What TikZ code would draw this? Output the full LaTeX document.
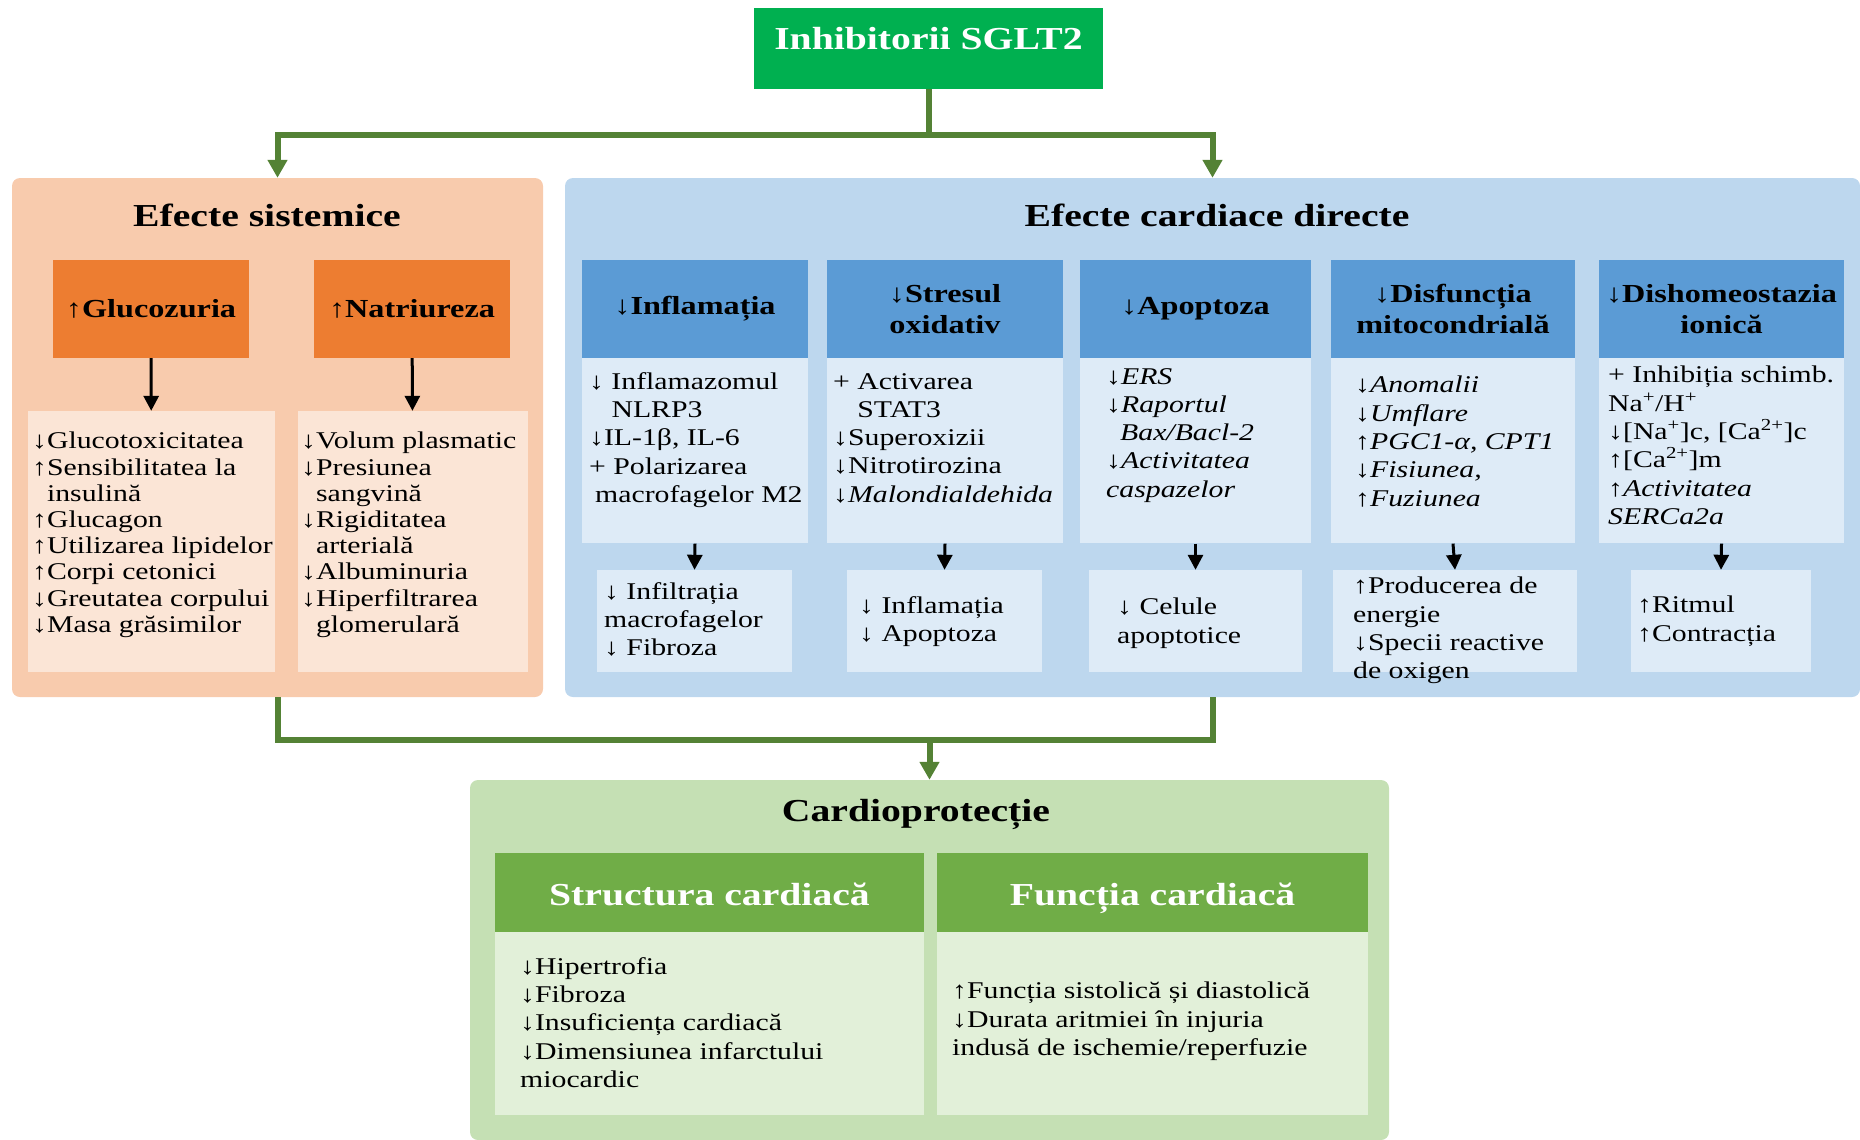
\documentclass[tikz,border=0pt]{standalone}
\usepackage{fontspec}
\setmainfont[FakeStretch=1.24]{Liberation Serif}
\usepackage{tikz}
\usetikzlibrary{positioning, arrows.meta}
\definecolor{sglt}{RGB}{0,176,80}
\definecolor{linkgreen}{RGB}{84,130,53}
\definecolor{sistfill}{RGB}{248,203,173}
\definecolor{sisthead}{RGB}{237,125,49}
\definecolor{sistbox}{RGB}{251,229,214}
\definecolor{cardfill}{RGB}{189,215,238}
\definecolor{cardhead}{RGB}{91,155,213}
\definecolor{cardbox}{RGB}{222,235,247}
\definecolor{protfill}{RGB}{197,224,180}
\definecolor{prothead}{RGB}{112,173,71}
\definecolor{protbox}{RGB}{226,240,217}
\tikzstyle{panel} = [rectangle, rounded corners=8pt, inner sep=0pt]
\tikzstyle{title} = [font=\fontsize{32}{36}\selectfont\bfseries, inner sep=0pt]
\tikzstyle{topbox} = [rectangle, fill=sglt, text=white, inner sep=0pt, minimum width=349pt, text height=41pt, text depth=40pt, font=\fontsize{32}{36}\selectfont\bfseries]
\tikzstyle{headbox} = [rectangle, inner sep=0pt, minimum height=98pt, align=center, font=\fontsize{26}{31}\selectfont\bfseries]
\tikzstyle{sisthdr} = [headbox, fill=sisthead, minimum width=196pt]
\tikzstyle{cardhdr} = [headbox, fill=cardhead]
\tikzstyle{prothdr} = [headbox, fill=prothead, text=white, minimum height=79pt, text height=27pt, text depth=2pt, font=\fontsize{32}{36}\selectfont\bfseries]
\tikzstyle{itembox} = [rectangle, inner sep=0pt]
\tikzstyle{itemtext} = [anchor=north west, inner sep=0pt, align=left, font=\fontsize{24}{28.3}\selectfont]
\tikzstyle{tighttext} = [itemtext, font=\fontsize{24}{26.2}\selectfont]
\tikzstyle{arrow} = [line width=3pt, -{Triangle[length=15pt, width=15pt]}]
\tikzstyle{joinline} = [line width=6pt, draw=linkgreen]
\tikzstyle{link} = [joinline, -{Triangle[length=18pt, width=19pt]}]
\begin{document}
\begin{tikzpicture}[x=1pt, y=-1pt]
\useasboundingbox (0,0) rectangle (1860,1140);

% panouri
\node (sist) [panel, fill=sistfill, minimum width=531pt, minimum height=519pt] at (277.5,437.5) {};
\node (card) [panel, fill=cardfill, minimum width=1295pt, minimum height=519pt] at (1212.5,437.5) {};
\node (prot) [panel, fill=protfill, minimum width=919pt, minimum height=360pt] at (929.5,960) {};

\node (sglt) [topbox] at (928.5,48.5) {Inhibitorii SGLT2\hspace{8pt}};
\node (sisttitle) [title] at (267,215) {Efecte sistemice};
\node (cardtitle) [title] at (1217,215) {Efecte cardiace directe};
\node (prottitle) [title] at (916,814) {Cardioprotecție};

% efecte sistemice
\node (gluc) [sisthdr] at (151,309) {↑Glucozuria};
\node (natr) [sisthdr] at (412,309) {↑Natriureza};
\node (glucbox) [itembox, fill=sistbox, minimum width=247pt, minimum height=261pt] at (151.5,541.5) {};
\node (natrbox) [itembox, fill=sistbox, minimum width=230pt, minimum height=261pt] at (413,541.5) {};
\node (gluctext) [tighttext] at (32,432) {↓Glucotoxicitatea\\ ↑Sensibilitatea la\\ \phantom{↑}insulină\\ ↑Glucagon\\ ↑Utilizarea lipidelor\\ ↑Corpi cetonici\\ ↓Greutatea corpului\\ ↓Masa grăsimilor};
\node (natrtext) [tighttext] at (301,432) {↓Volum plasmatic\\ ↓Presiunea\\ \phantom{↓}sangvină\\ ↓Rigiditatea\\ \phantom{↓}arterială\\ ↓Albuminuria\\ ↓Hiperfiltrarea\\ \phantom{↓}glomerulară};
\draw [arrow] (gluc) -- (glucbox);
\draw [arrow] (natr) -- (natrbox);

% efecte cardiace directe
\node (infl) [cardhdr, minimum width=226pt] at (695,309) {↓Inflamația};
\node (stres) [cardhdr, minimum width=236pt] at (945,309) {↓Stresul\\oxidativ};
\node (apop) [cardhdr, minimum width=231pt] at (1195.5,309) {↓Apoptoza};
\node (mito) [cardhdr, minimum width=244pt] at (1453,309) {↓Disfuncția\\mitocondrială};
\node (ion) [cardhdr, minimum width=245pt] at (1721.5,309) {↓Dishomeostazia\\ionică};

\node (inflbox) [itembox, fill=cardbox, minimum width=226pt, minimum height=185pt, below=0pt of infl] {};
\node (stresbox) [itembox, fill=cardbox, minimum width=236pt, minimum height=185pt, below=0pt of stres] {};
\node (apopbox) [itembox, fill=cardbox, minimum width=231pt, minimum height=185pt, below=0pt of apop] {};
\node (mitobox) [itembox, fill=cardbox, minimum width=244pt, minimum height=185pt, below=0pt of mito] {};
\node (ionbox) [itembox, fill=cardbox, minimum width=245pt, minimum height=185pt, below=0pt of ion] {};

\node (infltext) [itemtext] at (589,372) {↓ Inflamazomul\\ \phantom{↓ }NLRP3\\ ↓IL-1β, IL-6\\ + Polarizarea\\ \hspace{6pt}macrofagelor M2};
\node (strestext) [itemtext] at (833,373) {+ Activarea\\ \phantom{+ }STAT3\\ ↓Superoxizii\\ ↓Nitrotirozina\\ ↓\textit{Malondialdehida}};
\node (apoptext) [itemtext] at (1106,368) {↓\textit{ERS}\\ ↓\textit{Raportul}\\ \hspace{14pt}\textit{Bax/Bacl-2}\\ ↓\textit{Activitatea}\\ \textit{caspazelor}};
\node (mitotext) [itemtext] at (1355,376) {↓\textit{Anomalii}\\ ↓\textit{Umflare}\\ ↑\textit{PGC1-α, CPT1}\\ ↓\textit{Fisiunea,}\\ ↑\textit{Fuziunea}};
\node (iontext) [itemtext] at (1608,366) {+ Inhibiția schimb.\\ Na\textsuperscript{+}/H\textsuperscript{+}\\ ↓[Na\textsuperscript{+}]c, [Ca\textsuperscript{2+}]c\\ ↑[Ca\textsuperscript{2+}]m\\ ↑\textit{Activitatea}\\ \textit{SERCa2a}};

\node (inflres) [itembox, fill=cardbox, minimum width=195pt, minimum height=102pt] at (694.5,621) {};
\node (stresres) [itembox, fill=cardbox, minimum width=195pt, minimum height=102pt] at (944.5,621) {};
\node (apopres) [itembox, fill=cardbox, minimum width=213pt, minimum height=102pt] at (1195.5,621) {};
\node (mitores) [itembox, fill=cardbox, minimum width=244pt, minimum height=102pt] at (1455,621) {};
\node (ionres) [itembox, fill=cardbox, minimum width=180pt, minimum height=102pt] at (1721,621) {};

\node (inflrestext) [itemtext] at (604,582) {↓ Infiltrația\\ macrofagelor\\ ↓ Fibroza};
\node (stresrestext) [itemtext] at (859,596) {↓ Inflamația\\ ↓ Apoptoza};
\node (apoprestext) [itemtext] at (1117,598) {↓ Celule\\ apoptotice};
\node (mitorestext) [itemtext] at (1353,577) {↑Producerea de\\ energie\\ ↓Specii reactive\\ de oxigen};
\node (ionrestext) [itemtext] at (1637,596) {↑Ritmul\\ ↑Contracția};

\draw [arrow] (inflbox.south) -- (inflres.north);
\draw [arrow] (stresbox.south) -- (stresres.north);
\draw [arrow] (apopbox.south) -- (apopres.north);
\draw [arrow] (mitobox.south) -- (mitores.north);
\draw [arrow] (ionbox.south) -- (ionres.north);

% cardioprotectie
\node (struct) [prothdr, minimum width=429pt] at (709.5,892.5) {Structura cardiacă};
\node (func) [prothdr, minimum width=431pt] at (1152.5,892.5) {Funcția cardiacă};
\node (structbox) [itembox, fill=protbox, minimum width=429pt, minimum height=183pt, below=0pt of struct] {};
\node (funcbox) [itembox, fill=protbox, minimum width=431pt, minimum height=183pt, below=0pt of func] {};
\node (structtext) [itemtext] at (520,957) {↓Hipertrofia\\ ↓Fibroza\\ ↓Insuficiența cardiacă\\ ↓Dimensiunea infarctului\\ miocardic};
\node (functext) [itemtext] at (952,982) {↑Funcția sistolică și diastolică\\ ↓Durata aritmiei în injuria\\ indusă de ischemie/reperfuzie};

% conexiuni
\draw [link] (sglt.south) -- ++(0,46) -| (sist.north);
\draw [link] (sglt.south) -- ++(0,46) -| (card.north);
\coordinate (merge) at (929.5,740);
\draw [joinline] (sist.south) |- (merge) -| (card.south);
\draw [link] (merge) -- (prot.north);
\end{tikzpicture}
\end{document}
